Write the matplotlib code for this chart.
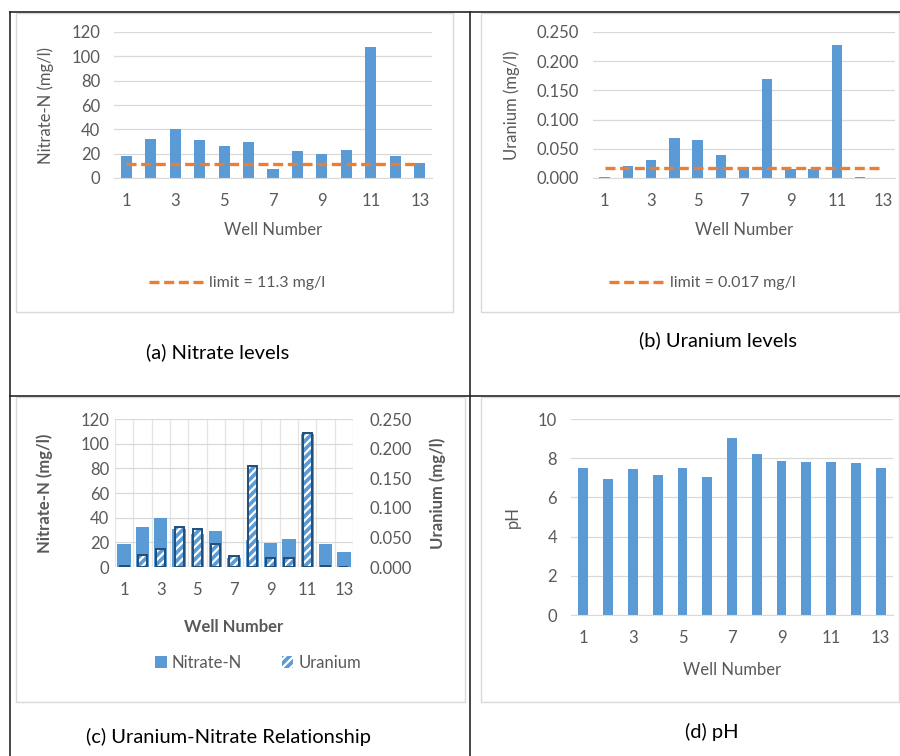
import matplotlib.pyplot as plt
from matplotlib.patches import Rectangle, Patch
from matplotlib.lines import Line2D

plt.rcParams['font.family'] = ['Lato', 'DejaVu Sans']
plt.rcParams['hatch.linewidth'] = 1.6

# data
wells = [1, 2, 3, 4, 5, 6, 7, 8, 9, 10, 11, 12, 13]
tick_wells = [1, 3, 5, 7, 9, 11, 13]
nitrate = [18.3, 32.2, 40.0, 31.0, 26.7, 29.5, 7.6, 21.8, 19.4, 22.9, 107.7, 18.3, 12.0]
uranium = [0.002, 0.020, 0.030, 0.068, 0.065, 0.039, 0.018, 0.170, 0.016, 0.015, 0.227, 0.002, 0.0]
ph = [7.52, 6.92, 7.45, 7.13, 7.50, 7.06, 9.01, 8.20, 7.87, 7.82, 7.81, 7.74, 7.48]
nitrate_limit = 11.3
uranium_limit = 0.017

BLUE = '#5b9bd5'
ORANGE = '#ed7d31'
GRID = '#d9d9d9'
TXT = '#595959'
FS = 12      # ticks / axis labels
CAP = 14.5   # captions under each panel

W, H = 900, 756
fig = plt.figure(figsize=(W / 100, H / 100), dpi=100)


def ax_at(l, t, r, b):
    # pixel box -> figure axes
    return fig.add_axes([l / W, 1 - b / H, (r - l) / W, (b - t) / H])


def fx(x):
    return x / W


def fy(y):
    return 1 - y / H


def style_cat(ax, ylim, yticks, fmt=None):
    ax.set_xlim(0.5, 13.5)
    ax.set_ylim(*ylim)
    ax.set_xticks(tick_wells)
    ax.set_yticks(yticks)
    if fmt:
        ax.set_yticklabels([fmt % v for v in yticks])
    ax.grid(axis='y', color=GRID, lw=0.9)
    ax.set_axisbelow(True)
    for s in ['left', 'right', 'top']:
        ax.spines[s].set_visible(False)
    ax.spines['bottom'].set_color(GRID)
    ax.tick_params(length=0, labelsize=FS, colors=TXT)
    ax.tick_params(axis='x', pad=11)
    ax.tick_params(axis='y', pad=10)


# table lines and chart area boxes
for (x0, y0, x1, y1) in [(16, 13, 453, 312), (481, 13, 899, 312),
                         (16, 397, 465, 702), (481, 397, 899, 702)]:
    fig.add_artist(Rectangle((fx(x0), fy(y1)), (x1 - x0) / W, (y1 - y0) / H,
                             transform=fig.transFigure, fill=False, ec=GRID, lw=1))
for (x0, y0, x1, y1) in [(10, 12, 900, 12), (10, 12, 10, 756),
                         (470, 12, 470, 756), (10, 396, 900, 396)]:
    fig.add_artist(Line2D([fx(x0), fx(x1)], [fy(y0), fy(y1)],
                          transform=fig.transFigure, color='#262626', lw=1.2))

dash = (0, (3.0, 1.4))

# (a) nitrate
ax1 = ax_at(114, 32, 432, 178)
ax1.bar(wells, nitrate, width=0.45, color=BLUE)
ln1, = ax1.plot(wells, [nitrate_limit] * len(wells), color=ORANGE, lw=2.4, ls=dash)
style_cat(ax1, (0, 120), [0, 20, 40, 60, 80, 100, 120])
ax1.set_xlabel('Well Number', fontsize=FS, color=TXT)
ax1.xaxis.set_label_coords(0.5, -0.30)
ax1.set_ylabel('Nitrate-N (mg/l)', fontsize=FS, color=TXT)
ax1.yaxis.set_label_coords(-0.19, 0.5)
ax1.legend([ln1], ['limit = 11.3 mg/l'], loc='center', bbox_to_anchor=(fx(237), fy(283)),
           bbox_transform=fig.transFigure, frameon=False, fontsize=11.5,
           handlelength=3.5, handletextpad=0.3, labelcolor=TXT)
fig.text(fx(218), fy(352), '(a) Nitrate levels', ha='center', va='center', fontsize=CAP)

# (b) uranium
ax2 = ax_at(593, 32, 895, 178)
ax2.bar(wells, uranium, width=0.45, color=BLUE)
ln2, = ax2.plot(wells, [uranium_limit] * len(wells), color=ORANGE, lw=2.4, ls=dash)
style_cat(ax2, (0, 0.25), [0, 0.05, 0.1, 0.15, 0.2, 0.25], '%.3f')
ax2.set_xlabel('Well Number', fontsize=FS, color=TXT)
ax2.xaxis.set_label_coords(0.5, -0.30)
ax2.set_ylabel('Uranium (mg/l)', fontsize=FS, color=TXT)
ax2.yaxis.set_label_coords(-0.243, 0.5)
ax2.legend([ln2], ['limit = 0.017 mg/l'], loc='center', bbox_to_anchor=(fx(702), fy(283)),
           bbox_transform=fig.transFigure, frameon=False, fontsize=11.5,
           handlelength=3.5, handletextpad=0.3, labelcolor=TXT)
fig.text(fx(718), fy(340), '(b) Uranium levels', ha='center', va='center', fontsize=CAP)

# (c) uranium-nitrate relationship
ax3 = ax_at(115, 419, 353, 567)
ax3.bar(wells, nitrate, width=0.73, color=BLUE)
style_cat(ax3, (0, 120), [0, 20, 40, 60, 80, 100, 120])
ax3.set_xticks([w + 0.5 for w in [0] + wells], minor=True)
ax3.grid(axis='x', which='minor', color='#e4e4e4', lw=0.9)
ax3.tick_params(which='minor', length=0)
ax3.spines['bottom'].set_visible(False)
ax3.tick_params(axis='y', pad=4)
ax3.set_xlabel('Well Number', fontsize=FS, color=TXT, fontweight='bold')
ax3.xaxis.set_label_coords(0.5, -0.35)
ax3.set_ylabel('Nitrate-N (mg/l)', fontsize=FS, color=TXT, fontweight='bold')
ax3.yaxis.set_label_coords(-0.26, 0.5)

ax3b = ax3.twinx()
ax3b.bar(wells, uranium, width=0.5, color=BLUE, ec='white', lw=0, hatch='////')
ax3b.bar(wells, uranium, width=0.5, fill=False, ec='#1f4e79', lw=1.4)
ax3b.set_ylim(0, 0.25)
yt = [0, 0.05, 0.1, 0.15, 0.2, 0.25]
ax3b.set_yticks(yt)
ax3b.set_yticklabels(['%.3f' % v for v in yt])
for s in ax3b.spines.values():
    s.set_visible(False)
ax3b.tick_params(length=0, labelsize=FS, colors=TXT, pad=12)
ax3b.set_ylabel('Uranium (mg/l)', fontsize=FS, color=TXT, fontweight='bold')
ax3b.yaxis.set_label_coords(1.32, 0.5)
h_n = Patch(facecolor=BLUE)
h_u = Patch(facecolor=BLUE, edgecolor='white', hatch='////', lw=0)
ax3.legend([h_n, h_u], ['Nitrate-N', 'Uranium'], loc='center', ncol=2,
           bbox_to_anchor=(fx(258), fy(663)), bbox_transform=fig.transFigure,
           frameon=False, fontsize=FS, handlelength=0.7, handleheight=0.7,
           handletextpad=0.3, columnspacing=2.4, labelcolor=TXT)
fig.text(fx(228), fy(737), '(c) Uranium-Nitrate Relationship', ha='center', va='center', fontsize=CAP)

# (d) pH
ax4 = ax_at(571, 419, 893, 615)
ax4.bar(wells, ph, width=0.4, color=BLUE)
style_cat(ax4, (0, 10), [0, 2, 4, 6, 8, 10])
ax4.set_xlabel('Well Number', fontsize=FS, color=TXT)
ax4.xaxis.set_label_coords(0.5, -0.24)
ax4.set_ylabel('pH', fontsize=FS, color=TXT)
ax4.yaxis.set_label_coords(-0.157, 0.5)
fig.text(fx(712), fy(732), '(d) pH', ha='center', va='center', fontsize=CAP)

fig.savefig('out.png', dpi=100)
